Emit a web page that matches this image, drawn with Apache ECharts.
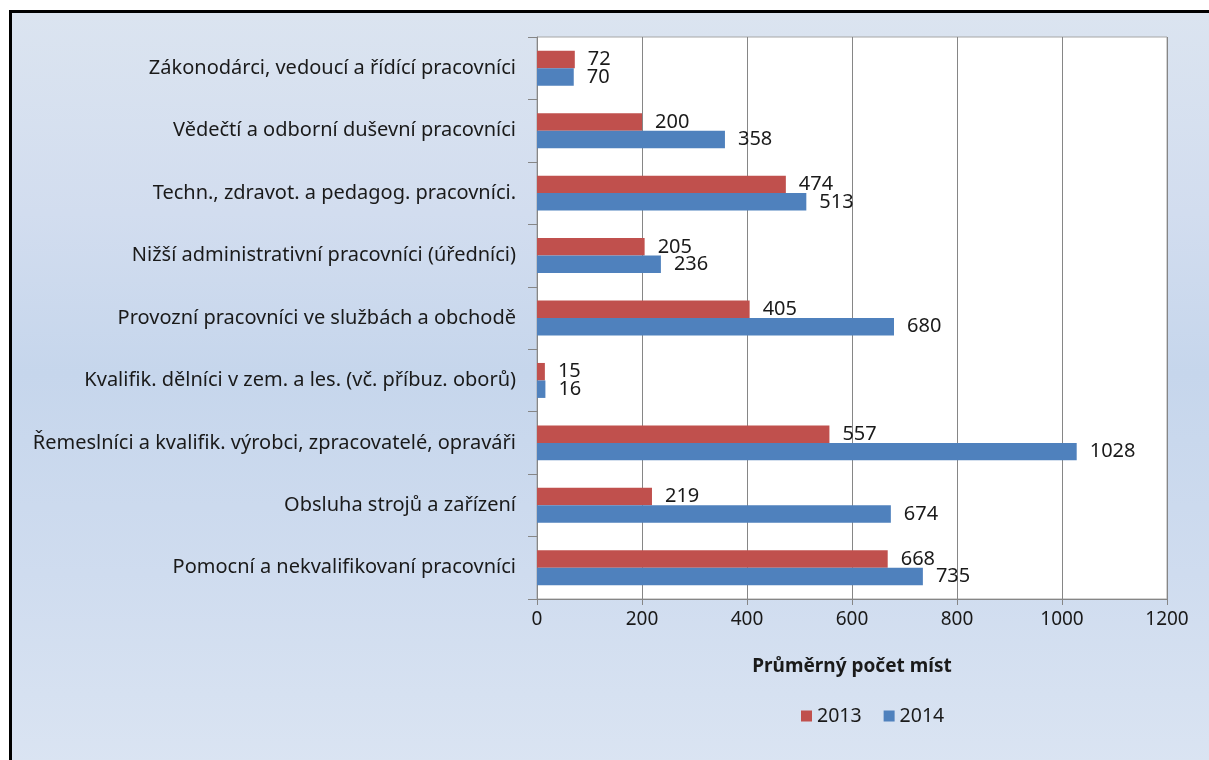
<!DOCTYPE html>
<html>
<head>
<meta charset="utf-8">
<script src="https://cdn.jsdelivr.net/npm/echarts@6/dist/echarts.min.js"></script>
<style>
  html, body { margin: 0; padding: 0; background: #ffffff; overflow: hidden; }
  #frame {
    position: absolute; left: 9px; top: 10px;
    width: 1230px; height: 800px;
    border: 3px solid #000;
    background: linear-gradient(to bottom, #dbe4f0 0%, #d2ddef 25%, #c6d6ec 45%, #cfdcef 70%, #dde6f3 100%);
  }
  #chart { width: 1230px; height: 800px; }
</style>
</head>
<body>
<div id="frame"><div id="chart"></div></div>
<script>
    'use strict';
    // tridy zamestnani, shora dolu
    var categories = [
        'Zákonodárci, vedoucí a řídící pracovníci',
        'Vědečtí a odborní duševní pracovníci',
        'Techn., zdravot. a pedagog. pracovníci.',
        'Nižší administrativní pracovníci (úředníci)',
        'Provozní pracovníci ve službách a obchodě',
        'Kvalifik. dělníci v zem. a les. (vč. příbuz. oborů)',
        'Řemeslníci a kvalifik. výrobci, zpracovatelé, opraváři',
        'Obsluha strojů a zařízení',
        'Pomocní a nekvalifikovaní pracovníci'
    ];
    var values2013 = [72, 200, 474, 205, 405, 15, 557, 219, 668];
    var values2014 = [70, 358, 513, 236, 680, 16, 1028, 674, 735];
    var seriesNames = ['2013', '2014'];
    var xTicks = [0, 200, 400, 600, 800, 1000, 1200];

    var font = "'Noto Sans', 'DejaVu Sans', sans-serif";
    var myChart = echarts.init(document.getElementById('chart'));

    function barSeries(name, data, color) {
        return {
            name: name,
            type: 'bar',
            data: data,
            barGap: '0%',
            barCategoryGap: '44%',
            itemStyle: { color: color },
            label: {
                show: true,
                position: 'right',
                distance: 13,
                color: '#1a1a1a',
                fontFamily: font,
                fontSize: 20
            }
        };
    }

    myChart.setOption({
        animation: false,
        textStyle: { fontFamily: font },
        grid: { left: 525, top: 24, width: 630, height: 562, containLabel: false,
                show: true, backgroundColor: '#ffffff', borderColor: '#a6a6a6', borderWidth: 1 },
        legend: {
            data: seriesNames,
            left: 784, top: 688,
            itemWidth: 11, itemHeight: 11, itemGap: 22,
            icon: 'rect',
            textStyle: { color: '#1a1a1a', fontSize: 19.5, fontFamily: font }
        },
        xAxis: {
            type: 'value',
            min: xTicks[0], max: xTicks[xTicks.length - 1], interval: 200,
            name: 'Průměrný počet míst',
            nameLocation: 'middle',
            nameGap: 58,
            nameTextStyle: { fontWeight: 'bold', fontSize: 19, color: '#1a1a1a', fontFamily: font },
            axisLine: { show: true, lineStyle: { color: '#868686' } },
            axisTick: { show: true, length: 6, lineStyle: { color: '#868686' } },
            axisLabel: { color: '#1a1a1a', fontSize: 19, margin: 11, fontFamily: font,
                         formatter: function (v) { return String(v); } },
            splitLine: { show: true, lineStyle: { color: '#868686' } }
        },
        yAxis: {
            type: 'category',
            data: categories,
            inverse: true,
            axisLine: { show: true, lineStyle: { color: '#868686' } },
            axisTick: { show: true, length: 9, inside: false, lineStyle: { color: '#868686' } },
            axisLabel: { color: '#1a1a1a', fontSize: 20, margin: 21, fontFamily: font }
        },
        series: [
            barSeries(seriesNames[0], values2013, '#c0504d'),
            barSeries(seriesNames[1], values2014, '#4f81bd')
        ]
    });
</script>
</body>
</html>
